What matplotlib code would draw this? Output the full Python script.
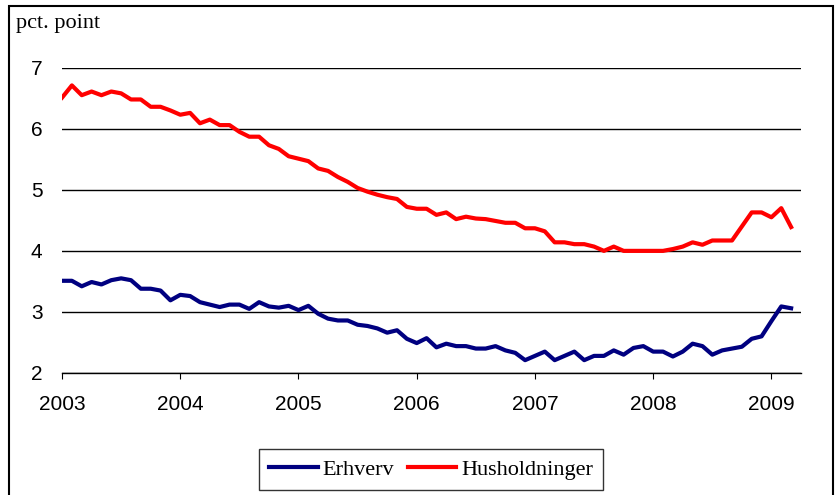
import matplotlib
matplotlib.use("Agg")
import matplotlib.pyplot as plt
from matplotlib.patches import Rectangle

# monthly, Jan 2003 - Mar 2009
years = ["2003", "2004", "2005", "2006", "2007", "2008", "2009"]

erhverv = [3.51, 3.51, 3.42, 3.49, 3.45, 3.52, 3.55, 3.52, 3.38, 3.38, 3.35, 3.19,
           3.28, 3.26, 3.16, 3.12, 3.08, 3.12, 3.12, 3.05, 3.16, 3.09, 3.07, 3.10,
           3.03, 3.10, 2.97, 2.89, 2.86, 2.86, 2.79, 2.77, 2.73, 2.66, 2.70, 2.56,
           2.49, 2.57, 2.42, 2.48, 2.44, 2.44, 2.40, 2.40, 2.44, 2.37, 2.33, 2.21,
           2.28, 2.35, 2.21, 2.28, 2.35, 2.21, 2.28, 2.28, 2.37, 2.30, 2.41, 2.44,
           2.35, 2.35, 2.27, 2.35, 2.48, 2.44, 2.30, 2.37, 2.40, 2.43, 2.56, 2.60,
           2.85, 3.09, 3.06]

husholdninger = [6.51, 6.71, 6.55, 6.61, 6.55, 6.61, 6.58, 6.48, 6.48, 6.36, 6.36, 6.30,
                 6.23, 6.26, 6.09, 6.15, 6.06, 6.06, 5.95, 5.87, 5.87, 5.73, 5.67, 5.55,
                 5.51, 5.47, 5.35, 5.31, 5.21, 5.13, 5.03, 4.97, 4.92, 4.88, 4.85, 4.72,
                 4.69, 4.69, 4.59, 4.63, 4.52, 4.56, 4.53, 4.52, 4.49, 4.46, 4.46, 4.37,
                 4.37, 4.32, 4.14, 4.14, 4.11, 4.11, 4.07, 4.00, 4.07, 4.00, 4.00, 4.00,
                 4.00, 4.00, 4.03, 4.07, 4.14, 4.10, 4.17, 4.17, 4.17, 4.40, 4.63, 4.63,
                 4.55, 4.70, 4.39]

months = list(range(len(erhverv)))

fig = plt.figure(figsize=(8.36, 4.95), dpi=100)
ax = fig.add_axes([0.0742, 0.2465, 0.8839, 0.6167])

ax.plot(months, erhverv, color="#000080", lw=3, label="Erhverv")
ax.plot(months, husholdninger, color="#ff0000", lw=3, label="Husholdninger")

ax.set_xlim(0, 75)
ax.set_ylim(2, 7)
ax.set_yticks([2, 3, 4, 5, 6, 7])
ax.set_xticks(range(0, 73, 12))
ax.set_xticklabels(years)
ax.yaxis.grid(True, color="black", lw=1)
ax.set_axisbelow(True)
for side in ["top", "right", "left"]:
    ax.spines[side].set_visible(False)
ax.spines["bottom"].set_linewidth(1)
ax.tick_params(axis="y", length=0, pad=14, labelsize=15)
ax.tick_params(axis="x", length=4.5, direction="out", pad=11, labelsize=15)
for lbl in ax.get_xticklabels() + ax.get_yticklabels():
    lbl.set_family("Liberation Sans")

fig.text(0.019, 0.953, "pct. point", family="Liberation Serif", fontsize=16,
         va="center", ha="left")

leg = ax.legend(loc="center", bbox_to_anchor=(0.5156, 0.052), bbox_transform=fig.transFigure,
                ncol=2, frameon=True, fancybox=False, edgecolor="black",
                prop={"family": "Liberation Serif", "size": 16},
                handlelength=2.2, handletextpad=0.2, columnspacing=0.6,
                borderpad=0.45)
leg.get_frame().set_linewidth(1)

fig.patches.append(Rectangle((0.0108, -0.05), 0.986, 1.037, transform=fig.transFigure,
                             fill=False, edgecolor="black", lw=1.5))

fig.savefig("out.png", dpi=100)
